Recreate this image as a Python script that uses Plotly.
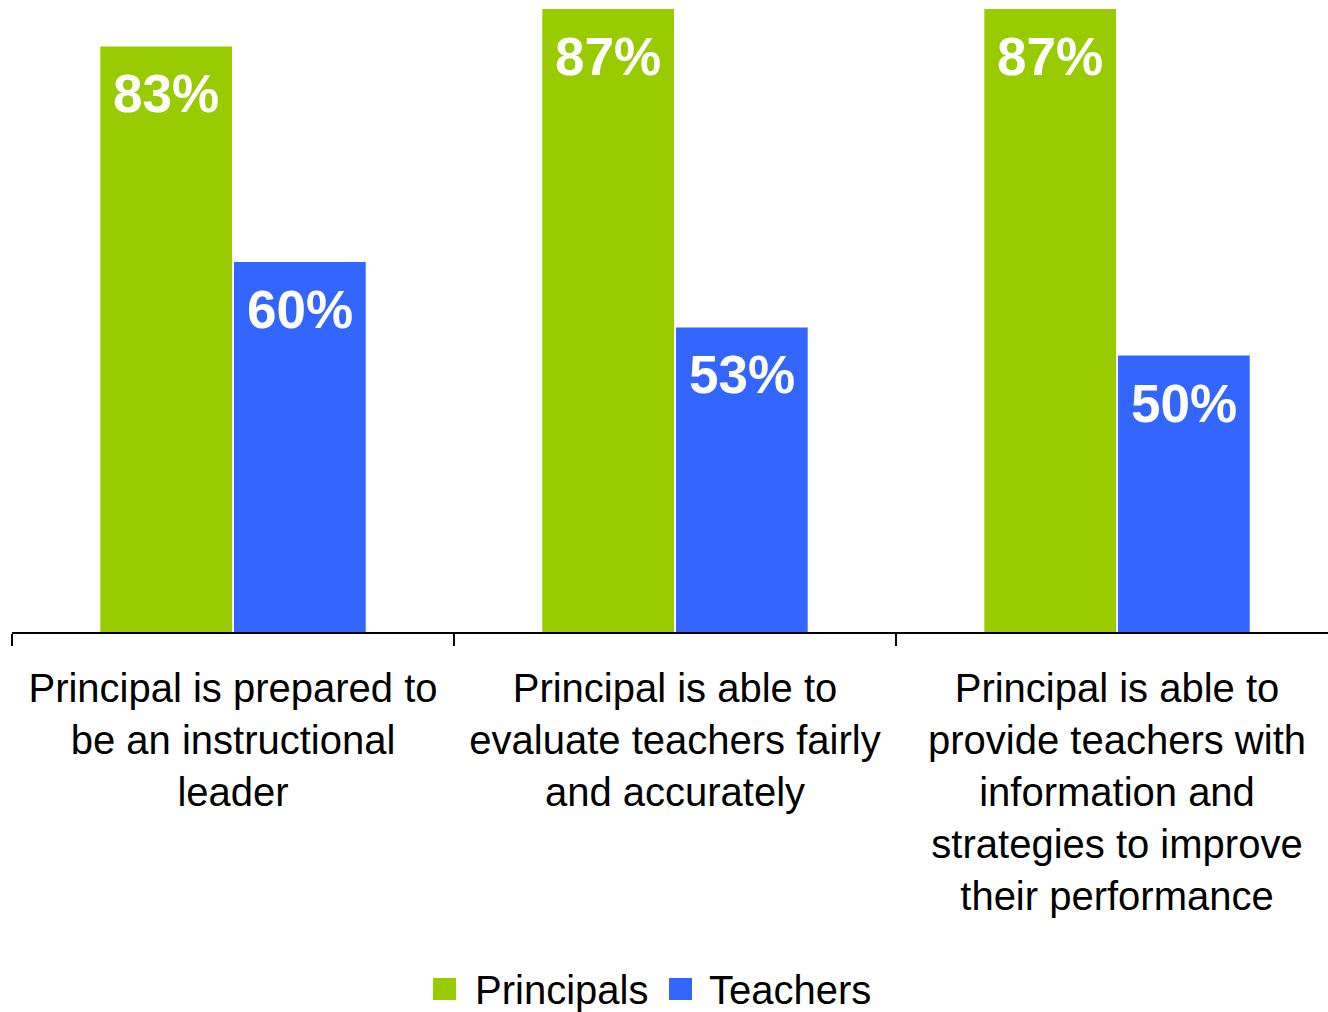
import plotly.graph_objects as go

categories = [
    "Principal is prepared to<br>be an instructional<br>leader",
    "Principal is able to<br>evaluate teachers fairly<br>and accurately",
    "Principal is able to<br>provide teachers with<br>information and<br>strategies to improve<br>their performance",
]
series_names = ["Principals", "Teachers"]
principals = [83, 87, 87]
teachers = [60, 53, 50]
series_values = [principals, teachers]
colors = ["#99CC00", "#3366FF"]

W, H = 1328, 1012
L, R, T = 12, 0, 0
base_y = 632
plot_w = W - L - R
plot_h = base_y - T
B = H - base_y
cat_px = 442.0
y_min = 20.5
px_per_unit = 9.37
y_max = y_min + plot_h / px_per_unit
x_max = -0.5 + plot_w / cat_px

bargap = 0.395
slot = (1 - bargap) / len(series_names)
FONT = "Arial, Liberation Sans, sans-serif"

fig = go.Figure()
for k, (name, vals) in enumerate(zip(series_names, series_values)):
    fig.add_trace(go.Bar(
        x=categories, y=vals, name=name,
        marker=dict(color=colors[k], line=dict(width=0)),
        showlegend=False, hoverinfo="skip",
    ))
    off = (k - (len(series_names) - 1) / 2) * slot
    for i, v in enumerate(vals):
        fig.add_annotation(
            x=i + off, y=v, xref="x", yref="y", text=f"{v}%",
            showarrow=False, yanchor="top", xanchor="center", yshift=-16,
            font=dict(family=FONT, size=53, color="white", weight="bold"),
        )

# legend (manual, large squares), positions in page pixels
def pxx(p):
    return (p - L) / plot_w

def pxy(p):
    return (base_y - p) / plot_h

legend_items = [(433, 473), (669, 707)]
for k, name in enumerate(series_names):
    sx, tx = legend_items[k]
    fig.add_shape(type="rect", xref="paper", yref="paper",
                  x0=pxx(sx), x1=pxx(sx + 23), y0=pxy(978), y1=pxy(1000),
                  fillcolor=colors[k], line=dict(width=0))
    fig.add_annotation(x=pxx(tx), y=pxy(990), xref="paper", yref="paper",
                       text=name, showarrow=False, xanchor="left", yanchor="middle",
                       font=dict(family=FONT, size=40, color="black"))

fig.update_layout(
    width=W, height=H,
    margin=dict(l=L, r=R, t=T, b=B, pad=0),
    paper_bgcolor="white", plot_bgcolor="white",
    barmode="group", bargap=bargap, bargroupgap=0.015,
    showlegend=False,
    xaxis=dict(
        type="category", range=[-0.5, x_max],
        tickson="boundaries", ticks="outside", ticklen=12, tickwidth=2,
        tickcolor="black", showline=True, linecolor="black", linewidth=2,
        showgrid=False, zeroline=False, automargin=False,
        ticklabelstandoff=20,
        tickfont=dict(family=FONT, size=40, color="black"),
    ),
    yaxis=dict(range=[y_min, y_max], visible=False, showgrid=False, zeroline=False),
)

fig.write_html(
    "out.html",
    config={"displayModeBar": False},
    post_script="document.body.style.margin='0';document.body.style.overflow='hidden';",
)
